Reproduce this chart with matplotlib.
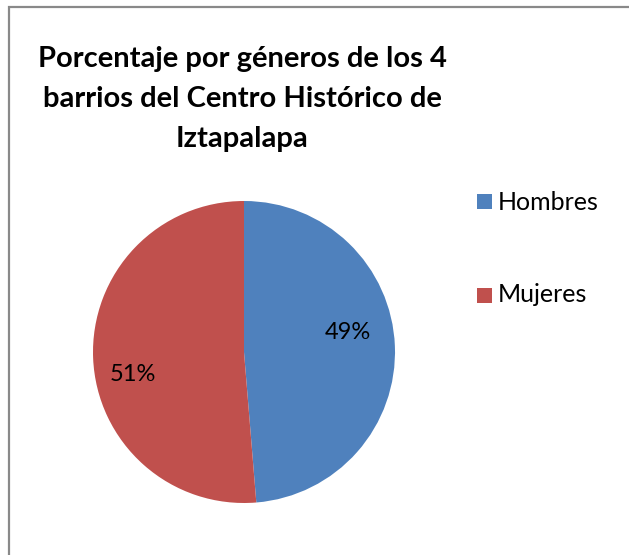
import matplotlib
matplotlib.use("Agg")
import matplotlib.pyplot as plt
from matplotlib.patches import Rectangle

categories = ["Hombres", "Mujeres"]
values = [48.7, 51.3]
colors = ["#4F81BD", "#C0504D"]
title = "Porcentaje por géneros de los 4\nbarrios del Centro Histórico de\nIztapalapa"

W, H = 629, 555
fig = plt.figure(figsize=(W / 100, H / 100), dpi=100)
plt.rcParams['font.family'] = ['Lato', 'DejaVu Sans']

# border
fig.patches.append(Rectangle((8.5 / W, -0.1), 1.2, 1 - 6.5 / H + 0.1, transform=fig.transFigure,
                             fill=False, edgecolor="#898989", linewidth=1.6))

cx, cy, r = 244, 352, 151
ax = fig.add_axes([(cx - r) / W, 1 - (cy + r) / H, 2 * r / W, 2 * r / H])
wedges, texts, autotexts = ax.pie(values, colors=colors, startangle=90, counterclock=False,
                                  autopct='%1.0f%%', pctdistance=0.7,
                                  textprops=dict(fontsize=17, color='black'),
                                  wedgeprops=dict(linewidth=0))
ax.set_xlim(-1, 1)
ax.set_ylim(-1, 1)
ax.set_aspect('equal')
label_pos = [(0.689, 0.126), (-0.735, -0.152)]
for t, p in zip(autotexts, label_pos):
    t.set_position(p)
    t.set_ha('center')
    t.set_va('center')

fig.text(242 / W, 1 - 99 / H, title, ha='center', va='center', fontsize=21, fontweight='bold',
         linespacing=1.65)

leg_y = [202, 295]
for name, c, y in zip(categories, colors, leg_y):
    fig.patches.append(Rectangle((477 / W, 1 - (y + 7.5) / H), 15 / W, 15 / H,
                                 transform=fig.transFigure, facecolor=c, edgecolor='none'))
    fig.text(498 / W, 1 - y / H, name, ha='left', va='center', fontsize=18)

fig.savefig("out.png", dpi=100)
